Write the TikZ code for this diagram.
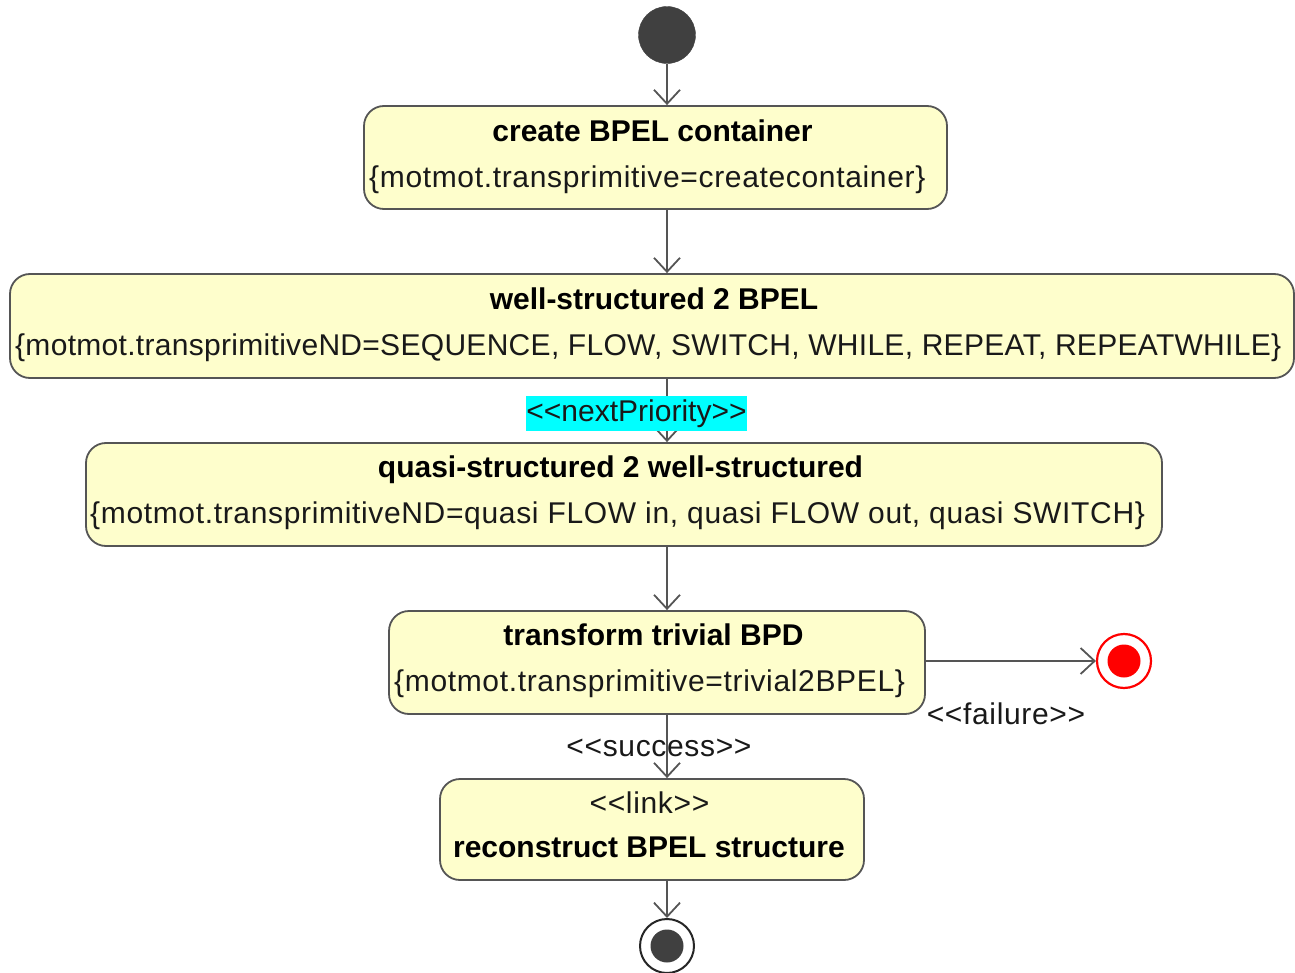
\documentclass[tikz,border=0pt]{standalone}
\usepackage{fontspec}
\setmainfont{Liberation Sans}
\newfontfamily\spacedsans[LetterSpace=2.2]{Liberation Sans}
\newfontfamily\tightsans[LetterSpace=1.0]{Liberation Sans}
\usetikzlibrary{arrows.meta}
\definecolor{boxfill}{HTML}{FEFECC}
\definecolor{edge}{HTML}{555555}
\definecolor{dot}{HTML}{404040}
\definecolor{hl}{HTML}{00FFFF}
\definecolor{redend}{HTML}{FF0000}
\begin{document}
\begin{tikzpicture}[x=1pt,y=-1pt,
  act/.style={draw=edge, line width=1.8pt, fill=boxfill, rounded corners=20pt, inner sep=0pt},
  ttl/.style={anchor=base, inner sep=0pt, font=\fontsize{30}{36}\selectfont\bfseries, text=black},
  dsc/.style={anchor=base west, inner sep=0pt, font=\spacedsans\fontsize{30}{36}\selectfont, text=black!90},
  lbl/.style={inner sep=0pt, font=\spacedsans\fontsize{30}{36}\selectfont, text=black!90},
  arr/.style={draw=edge, line width=1.8pt, -{Straight Barb[length=14pt,width=26pt,line width=1.8pt]}}]
\useasboundingbox (0,0) rectangle (1295,973);

% initial node
\node[circle, fill=dot, draw=dot, minimum size=57pt, inner sep=0pt] (start) at (667,35) {};

% activity boxes
\node[act, minimum width=583pt, minimum height=103pt] (b1) at (655.5,157.5) {};
\node[act, minimum width=1284pt, minimum height=104pt] (b2) at (652,326) {};
\node[act, minimum width=1076pt, minimum height=103pt] (b3) at (624,494.5) {};
\node[act, minimum width=536pt, minimum height=103pt] (b4) at (657,662.5) {};
\node[act, minimum width=424pt, minimum height=101pt] (b5) at (652,829.5) {};

% texts
\node[ttl] (b1t) at (652.5,141.5) {create BPEL container};
\node[dsc] (b1d) at (369,187.5) {\{motmot.transprimitive=createcontainer\}};
\node[ttl] (b2t) at (654,309.5) {well-structured 2 BPEL};
\node[dsc, font=\tightsans\fontsize{30}{36}\selectfont] (b2d) at (15,355.5) {\{motmot.transprimitiveND=SEQUENCE, FLOW, SWITCH, WHILE, REPEAT, REPEATWHILE\}};
\node[ttl] (b3t) at (620.5,477.5) {quasi-structured 2 well-structured};
\node[dsc] (b3d) at (90,523.5) {\{motmot.transprimitiveND=quasi FLOW in, quasi FLOW out, quasi SWITCH\}};
\node[ttl] (b4t) at (653.5,645.5) {transform trivial BPD};
\node[dsc] (b4d) at (394,691.5) {\{motmot.transprimitive=trivial2BPEL\}};
\node[lbl, anchor=base] (b5s) at (649.5,813) {<{}<link>{}>};
\node[ttl] (b5t) at (649,857.5) {reconstruct BPEL structure};

% final nodes
\node[circle, draw=redend, line width=2.2pt, fill=white, minimum size=54pt, inner sep=0pt] (fail) at (1124,661) {};
\node[circle, fill=redend, minimum size=33pt, inner sep=0pt] (failin) at (fail) {};
\node[circle, draw=black!85, line width=2pt, fill=white, minimum size=54pt, inner sep=0pt] (fin) at (667,946) {};
\node[circle, fill=dot, minimum size=33pt, inner sep=0pt] (finin) at (fin) {};

% connectors
\draw[arr] (start.south) -- (start.south |- b1.north);
\draw[arr] (b1.south -| start) -- (b2.north -| start);
\draw[arr] (b2.south -| start) -- (b3.north -| start);
\draw[arr] (b3.south -| start) -- (b4.north -| start);
\draw[arr] (b4.south -| start) -- (b5.north -| start);
\draw[arr] (b5.south -| start) -- (fin.north);
\draw[arr] (b4.east |- fail) -- (fail.west);

% connector labels
\node[lbl, font=\fontsize{30}{36}\selectfont, fill=hl, minimum width=219pt, minimum height=35pt] (np) at (636.5,413.5) {<{}<nextPriority>{}>};
\node[lbl, anchor=base] (fl) at (1006,724) {<{}<failure>{}>};
\node[lbl, anchor=base] (sc) at (659,756) {<{}<success>{}>};
\end{tikzpicture}
\end{document}
